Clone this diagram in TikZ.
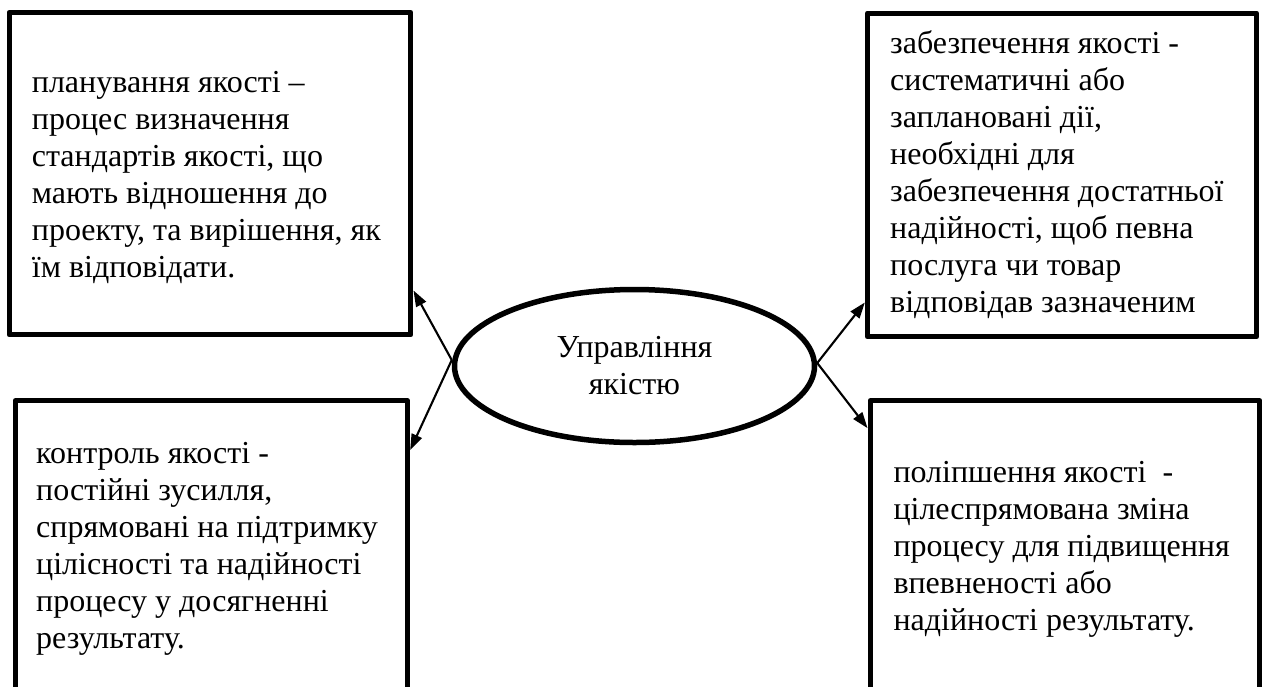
\documentclass[tikz,border=0pt]{standalone}
\usepackage{fontspec}
\setmainfont{Liberation Serif}
\usetikzlibrary{shapes.geometric,arrows.meta}
\newcommand\fst{\rule{0pt}{26pt}}
\tikzset{
  box/.style={draw, line width=5.3pt, line join=round, inner sep=0pt},
  txt/.style={anchor=north west, inner sep=0pt, align=left, font=\fontsize{32}{37}\selectfont},
  conn/.style={line width=2.1pt, -{Triangle[length=16pt,width=11pt]}},
}
\begin{document}
\begin{tikzpicture}[x=1pt,y=-1pt]
\fill[white] (0,0) rectangle (1268,686);
\useasboundingbox (0,0) rectangle (1268,686);
\clip (0,0) rectangle (1268,686);

\node[box, minimum width=401.6pt, minimum height=322.3pt] (tl) at (210,173.65) {};
\node[box, minimum width=392.3pt, minimum height=319.2pt] (bl) at (211.35,560.4) {};
\node[box, minimum width=389pt, minimum height=323.6pt] (tr) at (1062,175) {};
\node[box, minimum width=389.6pt, minimum height=319.2pt] (br) at (1065,560.4) {};

\node[draw, ellipse, line width=5.5pt, minimum width=360pt, minimum height=153pt, inner sep=0pt,
      align=center, font=\fontsize{32}{37}\selectfont] (ell) at (634.5,366) {Управління\\якістю};

\node[txt] (tlt) at (31.7,66.7) {\fst планування якості –\\процес визначення\\стандартів якості, що\\мають відношення до\\проекту, та вирішення, як\\їм відповідати.};
\node[txt] (blt) at (36,437) {\fst контроль якості -\\постійні зусилля,\\спрямовані на підтримку\\цілісності та надійності\\процесу у досягненні\\результату.};
\node[txt] (trt) at (890,27.3) {\fst забезпечення якості -\\систематичні або\\заплановані дії,\\необхідні для\\забезпечення достатньої\\надійності, щоб певна\\послуга чи товар\\відповідав зазначеним};
\node[txt] (brt) at (893.3,456.3) {\fst поліпшення якості~ -\\цілеспрямована зміна\\процесу для підвищення\\впевненості або\\надійності результату.};

\draw[conn] ([yshift=6pt]ell.west) -- ([yshift=47pt]tl.south east);
\draw[conn] ([yshift=6pt]ell.west) -- ([yshift=-52pt]bl.north east);
\draw[conn] ([yshift=3pt]ell.east) -- ([yshift=37pt]tr.south west);
\draw[conn] ([yshift=3pt]ell.east) -- ([yshift=-30pt]br.north west);
\end{tikzpicture}
\end{document}
